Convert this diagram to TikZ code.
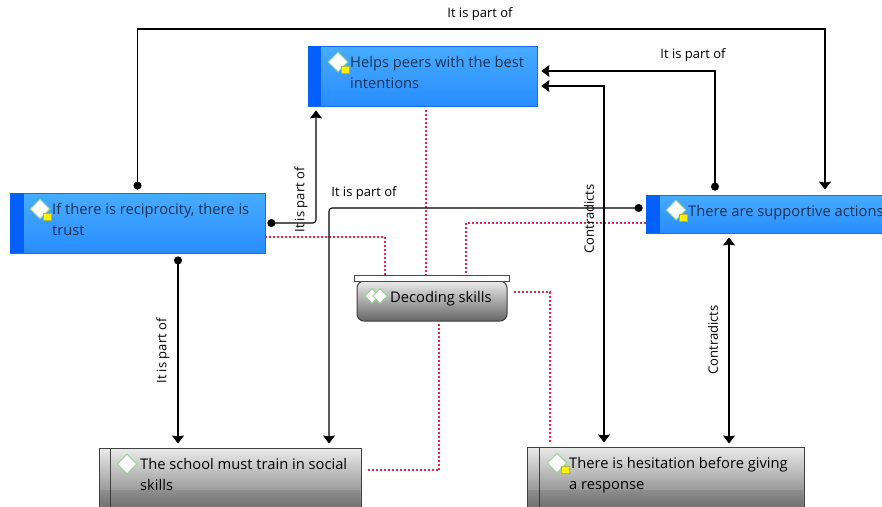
\documentclass[tikz,border=0pt]{standalone}
\usepackage{fontspec}
\setmainfont{Open Sans}
\usetikzlibrary{arrows.meta,shapes.geometric}
\definecolor{boxblue}{RGB}{25,110,240}
\definecolor{stripeblue}{RGB}{5,95,250}
\definecolor{toplight}{RGB}{72,172,255}
\definecolor{botlight}{RGB}{40,140,255}
\definecolor{inkblue}{RGB}{25,50,85}
\definecolor{reddash}{RGB}{225,40,70}
\tikzset{
    bluebox/.style={draw=boxblue, line width=.8pt, top color=toplight, bottom color=botlight, inner sep=0pt},
    greybox/.style={draw=black!75, line width=1pt, top color=black!8, bottom color=black!60, inner sep=0pt},
    boxtext/.style={anchor=north west, inner sep=0pt, align=left, font=\fontsize{14.7}{21}\selectfont},
    lbl/.style={inner sep=0pt, font=\fontsize{13}{15}\selectfont},
    icon/.style={diamond, aspect=1, draw=green!40!gray!60, fill=white, line width=1pt, minimum size=20pt, inner sep=0pt},
    note/.style={draw=yellow!70!black, fill=yellow, minimum width=8pt, minimum height=7pt, inner sep=0pt},
    link/.style={line width=1.05pt, {Circle[length=8pt]}-{Stealth[length=8pt,width=12pt,inset=1pt]}},
    both/.style={line width=1.05pt, {Stealth[length=8pt,width=12pt,inset=1pt]}-{Stealth[length=8pt,width=12pt,inset=1pt]}},
    redlink/.style={reddash, line width=1.25pt, dash pattern=on 2pt off 2pt}
}
\begin{document}
\begin{tikzpicture}[x=1pt,y=-1pt]
    \useasboundingbox (0,0) rectangle (882,506);

    \draw (137.5,223) node[bluebox, minimum width=255pt, minimum height=60pt] (reci) {};
    \draw (422.5,76) node[bluebox, minimum width=229pt, minimum height=60pt] (helps) {};
    \draw (764,214) node[bluebox, minimum width=236pt, minimum height=38pt] (support) {};
    \draw (432,301) node[greybox, rounded corners=7pt, minimum width=150pt, minimum height=40pt] (decoding) {};
    \draw (431.5,278) node[draw=black!70, fill=white, line width=1pt, inner sep=0pt, minimum width=155pt, minimum height=6pt] (lid) {};
    \draw (230,483) node[greybox, minimum width=262pt, minimum height=70pt] (school) {};
    \draw (665.5,482) node[greybox, minimum width=277pt, minimum height=70pt] (hesitation) {};

    \fill[stripeblue] (reci.north west) rectangle ([xshift=14pt]reci.south west);
    \fill[stripeblue] (helps.north west) rectangle ([xshift=13pt]helps.south west);
    \fill[stripeblue] (support.north west) rectangle ([xshift=14pt]support.south west);
    \draw[black!75, line width=1pt] ([xshift=12pt]school.north west) -- ([xshift=12pt]school.south west);
    \draw[black!75, line width=1pt] ([xshift=13pt]hesitation.north west) -- ([xshift=13pt]hesitation.south west);
    \fill[black, opacity=.08] (100,490) rectangle (360,506);
    \fill[black, opacity=.08] (528,490) rectangle (803,506);

    \draw (40,209) node[icon] (reciIcon) {};
    \draw (47,217) node[note] (reciNote) {};
    \draw (338,62) node[icon] (helpsIcon) {};
    \draw (345,70) node[note] (helpsNote) {};
    \draw (676,210) node[icon] (supportIcon) {};
    \draw (683,218) node[note] (supportNote) {};
    \draw (127,464) node[icon] (schoolIcon) {};
    \draw (557,463) node[icon] (hesitationIcon) {};
    \draw (565,470) node[note] (hesitationNote) {};
    \draw (372,296) node[icon, minimum size=15pt] (decodingIconA) {};
    \draw (380,296) node[icon, minimum size=15pt] (decodingIconB) {};

    \draw (52,203) node[boxtext, text=inkblue] (reciText) {If there is reciprocity, there is\\trust};
    \draw (350,56) node[boxtext, text=inkblue] (helpsText) {Helps peers with the best\\intentions};
    \draw (688,205) node[boxtext, text=inkblue] (supportText) {There are supportive actions};
    \draw (390,291) node[boxtext] (decodingText) {Decoding skills};
    \draw (140,458) node[boxtext] (schoolText) {The school must train in social\\skills};
    \draw (569,457) node[boxtext] (hesitationText) {There is hesitation before giving\\a response};

    \draw[redlink] ([yshift=-14pt]reci.east) -| ([xshift=-46.5pt]lid.north);
    \draw[redlink] ([yshift=-4pt,xshift=3.5pt]helps.south) -- ([xshift=-5.5pt]lid.north);
    \draw[redlink] ([yshift=-9pt]support.west) -| ([xshift=34.5pt]lid.north);
    \draw[redlink] ([yshift=9pt,xshift=6pt]decoding.east) -| ([xshift=-115.5pt,yshift=4pt]hesitation.north);
    \draw[redlink] ([xshift=7pt,yshift=-2pt]decoding.south) |- ([xshift=4pt,yshift=13pt]school.east);

    \draw[link] ([yshift=3pt]reci.north) |- (825,29) -- ([xshift=61pt,yshift=5pt]support.north);
    \draw[link, rounded corners=3pt] ([xshift=2pt]reci.east) -| ([xshift=-106.5pt,yshift=-4pt]helps.south);
    \draw[link] ([xshift=-49pt,yshift=4pt]support.north) |- ([xshift=4pt,yshift=5pt]helps.east);
    \draw[link, rounded corners=3pt] ([xshift=-3pt,yshift=6pt]support.west) -| ([xshift=99pt,yshift=4pt]school.north);
    \draw[link] ([xshift=40.5pt,yshift=-3pt]reci.south) -- ([xshift=-52pt,yshift=4pt]school.north);
    \draw[both] ([xshift=4pt,yshift=-10pt]helps.east) -| ([xshift=-61.5pt,yshift=4pt]hesitation.north);
    \draw[both] ([xshift=-35pt,yshift=-4pt]support.south) -- ([xshift=63.5pt,yshift=3pt]hesitation.north);

    \draw (480,14) node[lbl] (partTop) {It is part of};
    \draw (693,55) node[lbl] (partRight) {It is part of};
    \draw (364,193) node[lbl] (partMid) {It is part of};
    \draw (301,200) node[lbl, rotate=90] (partLeft) {It is part of};
    \draw (163,351) node[lbl, rotate=90] (partLow) {It is part of};
    \draw (589,219) node[lbl, rotate=90] (contraMid) {Contradicts};
    \draw (713,340) node[lbl, rotate=90] (contraRight) {Contradicts};
\end{tikzpicture}
\end{document}
